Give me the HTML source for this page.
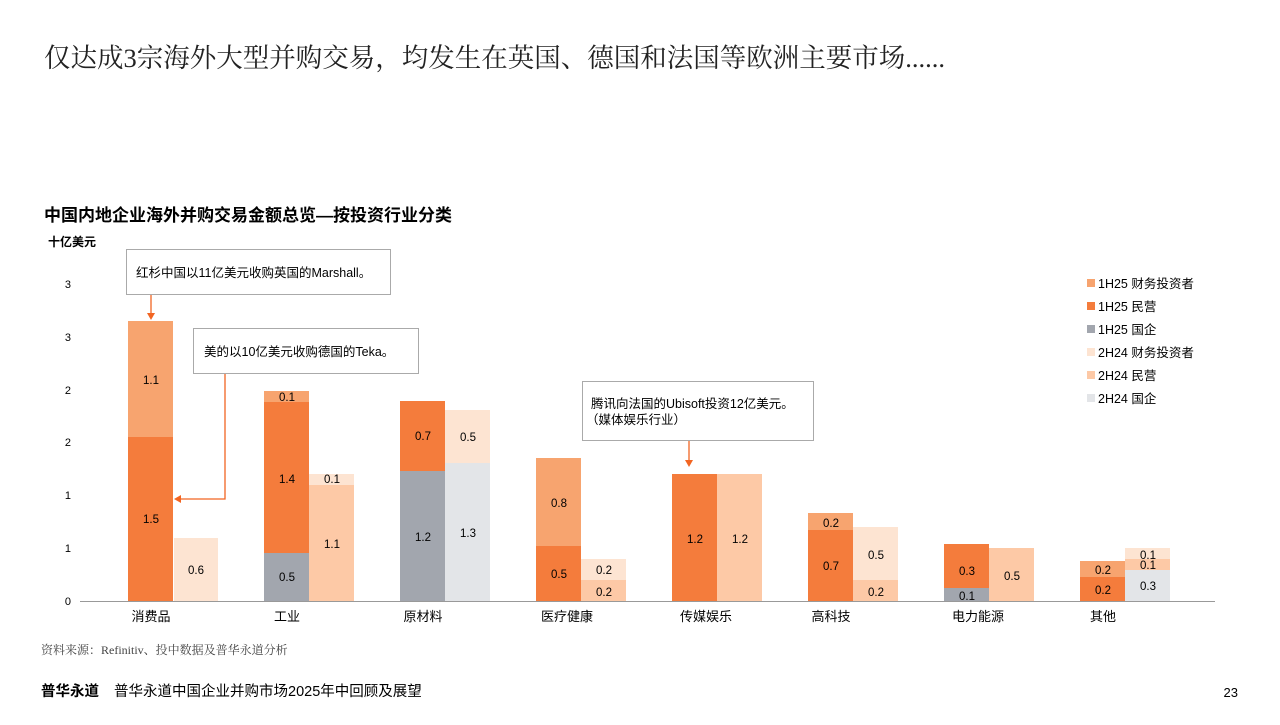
<!DOCTYPE html>
<html><head><meta charset="utf-8"><style>
body{margin:0;width:1280px;height:720px;background:#fff;overflow:hidden;font-family:"Liberation Sans","Noto Sans CJK SC",sans-serif;}
</style></head><body>
<svg width="1280" height="720" xmlns="http://www.w3.org/2000/svg" font-family="Liberation Sans, Noto Sans CJK SC, sans-serif">
<text x="44" y="67" font-size="26.5" fill="#222" font-family="Liberation Serif, Noto Serif CJK SC, serif">仅达成3宗海外大型并购交易，均发生在英国、德国和法国等欧洲主要市场......</text>
<text x="44" y="221" font-size="17" font-weight="bold" fill="#000">中国内地企业海外并购交易金额总览—按投资行业分类</text>
<text x="48" y="246" font-size="12" font-weight="bold" fill="#000">十亿美元</text>
<g font-size="11" fill="#000" text-anchor="end">
<text x="71" y="605">0</text><text x="71" y="552">1</text><text x="71" y="499">1</text><text x="71" y="446">2</text><text x="71" y="394">2</text><text x="71" y="341">3</text><text x="71" y="288">3</text>
</g>
<line x1="80" y1="601.5" x2="1215" y2="601.5" stroke="#999" stroke-width="1"/>
<g>
<rect x="128" y="437" width="45" height="164" fill="#f47c3c"/><rect x="128" y="321" width="45" height="116" fill="#f7a46f"/>
<rect x="174" y="538" width="44" height="63" fill="#fde4d2"/>
<rect x="264" y="553" width="45" height="48" fill="#a2a6ae"/><rect x="264" y="402" width="45" height="151" fill="#f47c3c"/><rect x="264" y="391" width="45" height="11" fill="#f7a46f"/>
<rect x="309" y="485" width="45" height="116" fill="#fdc9a6"/><rect x="309" y="474" width="45" height="11" fill="#fde4d2"/>
<rect x="400" y="471" width="45" height="130" fill="#a2a6ae"/><rect x="400" y="401" width="45" height="70" fill="#f47c3c"/>
<rect x="445" y="463" width="45" height="138" fill="#e3e5e8"/><rect x="445" y="410" width="45" height="53" fill="#fde4d2"/>
<rect x="536" y="546" width="45" height="55" fill="#f47c3c"/><rect x="536" y="458" width="45" height="88" fill="#f7a46f"/>
<rect x="581" y="580" width="45" height="21" fill="#fdc9a6"/><rect x="581" y="559" width="45" height="21" fill="#fde4d2"/>
<rect x="672" y="474" width="45" height="127" fill="#f47c3c"/>
<rect x="717" y="474" width="45" height="127" fill="#fdc9a6"/>
<rect x="808" y="530" width="45" height="71" fill="#f47c3c"/><rect x="808" y="513" width="45" height="17" fill="#f7a46f"/>
<rect x="853" y="580" width="45" height="21" fill="#fdc9a6"/><rect x="853" y="527" width="45" height="53" fill="#fde4d2"/>
<rect x="944" y="588" width="45" height="13" fill="#a2a6ae"/><rect x="944" y="544" width="45" height="44" fill="#f47c3c"/>
<rect x="989" y="548" width="45" height="53" fill="#fdc9a6"/>
<rect x="1080" y="577" width="45" height="24" fill="#f47c3c"/><rect x="1080" y="561" width="45" height="16" fill="#f7a46f"/>
<rect x="1125" y="570" width="45" height="31" fill="#e3e5e8"/><rect x="1125" y="559" width="45" height="11" fill="#fdc9a6"/><rect x="1125" y="548" width="45" height="11" fill="#fde4d2"/>
</g>
<g font-size="11.5" fill="#000" text-anchor="middle">
<text x="151" y="384">1.1</text><text x="151" y="523">1.5</text><text x="196" y="574">0.6</text>
<text x="287" y="401">0.1</text><text x="287" y="483">1.4</text><text x="287" y="581">0.5</text><text x="332" y="483">0.1</text><text x="332" y="548">1.1</text>
<text x="423" y="440">0.7</text><text x="423" y="541">1.2</text><text x="468" y="441">0.5</text><text x="468" y="537">1.3</text>
<text x="559" y="507">0.8</text><text x="559" y="578">0.5</text><text x="604" y="574">0.2</text><text x="604" y="596">0.2</text>
<text x="695" y="543">1.2</text><text x="740" y="543">1.2</text>
<text x="831" y="527">0.2</text><text x="831" y="570">0.7</text><text x="876" y="559">0.5</text><text x="876" y="596">0.2</text>
<text x="967" y="575">0.3</text><text x="967" y="600">0.1</text><text x="1012" y="580">0.5</text>
<text x="1103" y="574">0.2</text><text x="1103" y="594">0.2</text><text x="1148" y="559">0.1</text><text x="1148" y="569">0.1</text><text x="1148" y="590">0.3</text>
</g>
<g font-size="13" fill="#000" text-anchor="middle">
<text x="151" y="621">消费品</text><text x="287" y="621">工业</text><text x="423" y="621">原材料</text><text x="567" y="621">医疗健康</text>
<text x="706" y="621">传媒娱乐</text><text x="831" y="621">高科技</text><text x="978" y="621">电力能源</text><text x="1103" y="621">其他</text>
</g>
<rect x="126.5" y="249.5" width="264" height="45" fill="#fff" stroke="#aaa"/>
<text x="136" y="277" font-size="12.5" fill="#000">红杉中国以11亿美元收购英国的Marshall。</text>
<line x1="151" y1="295" x2="151" y2="314" stroke="#f26522" stroke-width="1.3"/><path d="M147 313 L155 313 L151 320 Z" fill="#f26522"/>
<rect x="193.5" y="328.5" width="225" height="45" fill="#fff" stroke="#aaa"/>
<text x="204" y="356" font-size="12.5" fill="#000">美的以10亿美元收购德国的Teka。</text>
<polyline points="225,374 225,499 180,499" fill="none" stroke="#f26522" stroke-width="1.3"/><path d="M181 495 L181 503 L174 499 Z" fill="#f26522"/>
<rect x="582.5" y="381.5" width="231" height="59" fill="#fff" stroke="#aaa"/>
<text x="591" y="408" font-size="12.5" fill="#000">腾讯向法国的Ubisoft投资12亿美元。</text>
<text x="586" y="424" font-size="12.5" fill="#000">（媒体娱乐行业）</text>
<line x1="689" y1="441" x2="689" y2="461" stroke="#f26522" stroke-width="1.3"/><path d="M685 460 L693 460 L689 467 Z" fill="#f26522"/>
<g font-size="12.5" fill="#000">
<rect x="1087" y="279" width="8" height="8" fill="#f7a46f"/><text x="1098" y="288">1H25 财务投资者</text>
<rect x="1087" y="302" width="8" height="8" fill="#f47c3c"/><text x="1098" y="311">1H25 民营</text>
<rect x="1087" y="325" width="8" height="8" fill="#a2a6ae"/><text x="1098" y="334">1H25 国企</text>
<rect x="1087" y="348" width="8" height="8" fill="#fde4d2"/><text x="1098" y="357">2H24 财务投资者</text>
<rect x="1087" y="371" width="8" height="8" fill="#fdc9a6"/><text x="1098" y="380">2H24 民营</text>
<rect x="1087" y="394" width="8" height="8" fill="#e3e5e8"/><text x="1098" y="403">2H24 国企</text>
</g>
<text x="41" y="654" font-size="12" fill="#444" font-family="Liberation Serif, Noto Serif CJK SC, serif">资料来源：Refinitiv、投中数据及普华永道分析</text>
<text x="41" y="696" font-size="14.5" font-weight="bold" fill="#000">普华永道</text>
<text x="114" y="696" font-size="14.5" fill="#000">普华永道中国企业并购市场2025年中回顾及展望</text>
<text x="1238" y="697" font-size="13" fill="#000" text-anchor="end">23</text>
</svg>
</body></html>
